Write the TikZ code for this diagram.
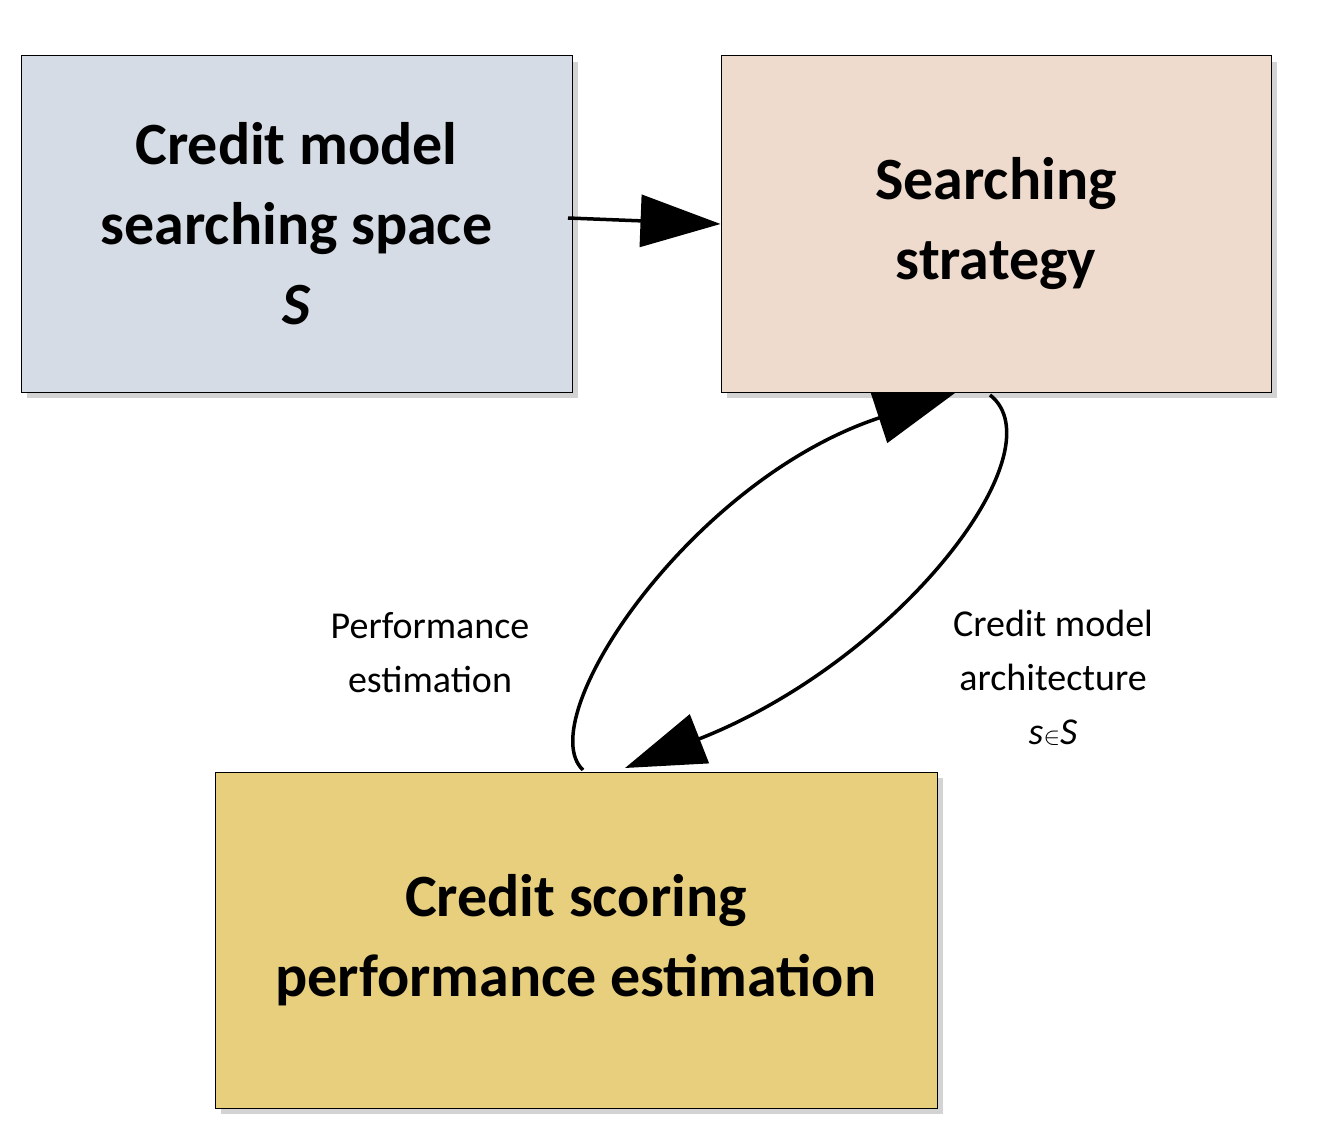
\documentclass[tikz,border=0pt]{standalone}
\usepackage{fontspec}
\setmainfont{Carlito}
\usetikzlibrary{arrows.meta,shadows}
\begin{document}
\begin{tikzpicture}[x=1pt,y=-1pt,
  box/.style={draw=black,line width=1pt,drop shadow={opacity=0.35,shadow xshift=6pt,shadow yshift=-6pt},align=center,font=\fontsize{60}{80}\selectfont\bfseries,inner sep=0pt},
  lab/.style={align=center,font=\fontsize{38}{54}\selectfont},
  arr/.style={line width=3.5pt,-{Triangle[length=80pt,width=52pt]}}]
\useasboundingbox (0,0) rectangle (1319,1123);
\definecolor{cA}{HTML}{D6DCE5}
\definecolor{cB}{HTML}{EEDBCD}
\definecolor{cC}{HTML}{E8CF7E}
\node[box,fill=cA,minimum width=551pt,minimum height=336pt] (A) at (296.5,224) {Credit model\\searching space\\\textit{S}};
\node[box,fill=cB,minimum width=550pt,minimum height=336pt] (B) at (996,224) {Searching\\strategy};
\node[box,fill=cC,minimum width=722pt,minimum height=336pt] (C) at (576,940) {Credit scoring\\performance estimation};
\coordinate (a1) at (568,218);
\coordinate (l0) at (583,770);
\coordinate (l1) at (955,393);
\coordinate (r0) at (990,395);
\coordinate (r1) at (625,768);
\draw[arr] (a1) -- (A.east -| B.west);
\draw[arr] (l0) .. controls (530,720) and (690,480) .. (l1);
\draw[arr] (r0) .. controls (1060,450) and (900,660) .. (r1);
\node[lab] (P) at (430,653) {Performance\\estimation};
\node[lab] (M) at (1053,678) {Credit model\\architecture\\\textit{s}$\in$\textit{S}};
\end{tikzpicture}
\end{document}
